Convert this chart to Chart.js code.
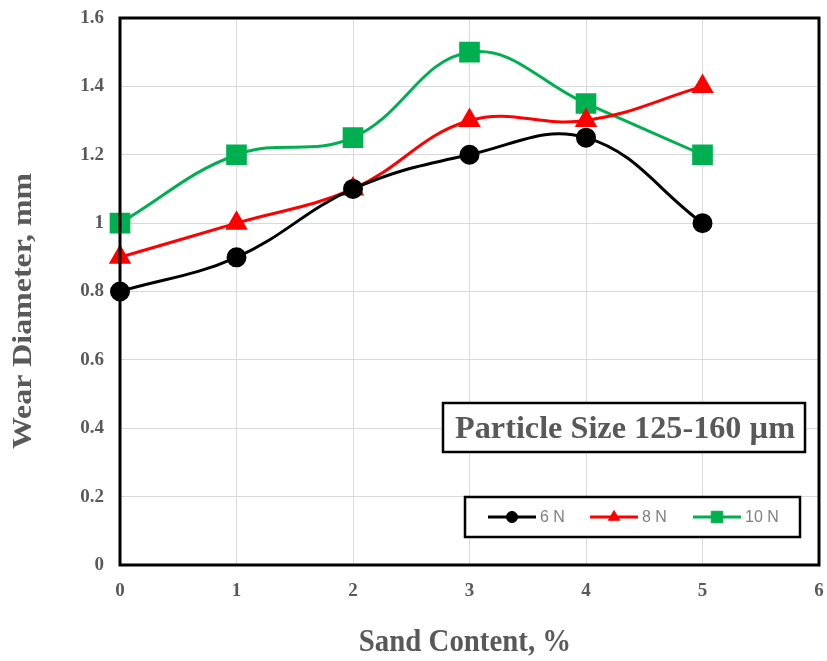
<!DOCTYPE html>
<html><head><meta charset="utf-8">
<script src="https://cdn.jsdelivr.net/npm/chart.js@4"></script>
<style>html,body{margin:0;padding:0;background:#fff;}#wrap{width:827px;height:661px;}</style>
</head><body><div id="wrap"><canvas id="c" width="827" height="661"></canvas></div>
<script>
const sandContent = [0, 1, 2, 3, 4, 5];
const load6N  = [0.8, 0.9, 1.1, 1.2, 1.25, 1.0];
const load8N  = [0.9, 1.0, 1.1, 1.3, 1.3, 1.4];
const load10N = [1.0, 1.2, 1.25, 1.5, 1.35, 1.2];
const seriesLabels = ['6 N', '8 N', '10 N'];
const xTitle = 'Sand Content, %';
const yTitle = 'Wear Diameter, mm';
const boxText = 'Particle Size 125-160 \u00b5m';

const toPts = arr => arr.map((v, i) => ({x: sandContent[i], y: v}));
const gray = '#595959';
const serif = "'Liberation Serif', 'DejaVu Serif', serif";

const overlay = {
  id: 'overlay',
  afterDraw(chart) {
    const ctx = chart.ctx, a = chart.chartArea;
    ctx.save();
    // plot border
    ctx.strokeStyle = '#000'; ctx.lineWidth = 3;
    ctx.strokeRect(a.left, a.top, a.right - a.left, a.bottom - a.top);
    // axis titles
    ctx.fillStyle = gray; ctx.font = "bold 28px " + serif;
    ctx.textAlign = 'center'; ctx.textBaseline = 'middle';
    ctx.save();
    ctx.translate(465, 643);
    ctx.scale(1.03, 1.15);
    ctx.fillText(xTitle, 0, 0);
    ctx.restore();
    ctx.save();
    ctx.translate(24, 311);
    ctx.rotate(-Math.PI / 2);
    ctx.scale(1.14, 1.0);
    ctx.fillText(yTitle, 0, 0);
    ctx.restore();
    // annotation box
    ctx.fillStyle = '#fff';
    ctx.fillRect(443, 403, 362, 49);
    ctx.lineWidth = 2.5; ctx.strokeStyle = '#000';
    ctx.strokeRect(443, 403, 362, 49);
    ctx.fillStyle = gray; ctx.font = "bold 31px " + serif;
    ctx.save();
    ctx.translate(625, 430);
    ctx.scale(1.04, 1.0);
    ctx.fillText(boxText, 0, 0);
    ctx.restore();
    // legend box
    ctx.fillStyle = '#fff';
    ctx.fillRect(465, 497, 335, 40);
    ctx.strokeRect(465, 497, 335, 40);
    const starts = [488, 590, 693];
    ctx.font = "16px 'Liberation Sans', Arial, sans-serif";
    ctx.textAlign = 'left';
    chart.data.datasets.forEach((ds, i) => {
      const x0 = starts[i], y = 517;
      ctx.strokeStyle = ds.borderColor; ctx.fillStyle = ds.borderColor; ctx.lineWidth = 3;
      ctx.beginPath(); ctx.moveTo(x0, y); ctx.lineTo(x0 + 48, y); ctx.stroke();
      ctx.lineWidth = 1;
      Chart.helpers.drawPoint(ctx, {pointStyle: ds.pointStyle, radius: ds.pointRadius * 0.65, borderWidth: 1}, x0 + 24, y);
      ctx.fillStyle = '#7f7f7f';
      ctx.fillText(ds.label, x0 + 52, y + 1);
    });
    ctx.restore();
  }
};

function ds(label, data, color, style, r) {
  return {label, data: toPts(data), borderColor: color, backgroundColor: color,
    pointBackgroundColor: color, pointBorderColor: color, pointStyle: style,
    pointRadius: r, pointHoverRadius: r, borderWidth: 3, tension: 0.4, fill: false, clip: false};
}

function zeroPad(s) { s.paddingLeft = 0; s.paddingRight = 0; s.paddingTop = 0; s.paddingBottom = 0; }

new Chart(document.getElementById('c'), {
  type: 'line',
  data: {datasets: [
    ds(seriesLabels[0], load6N, '#000000', 'circle', 8.5),
    ds(seriesLabels[1], load8N, '#ff0000', 'triangle', 10),
    ds(seriesLabels[2], load10N, '#00b050', 'rect', 12.5)
  ]},
  options: {
    responsive: false, animation: false,
    layout: {autoPadding: false, padding: {top: 18, right: 8, left: 0, bottom: 0}},
    plugins: {legend: {display: false}, tooltip: {enabled: false}},
    scales: {
      x: {type: 'linear', min: 0, max: 6,
        ticks: {stepSize: 1, color: gray, padding: 15, font: {family: serif, size: 19, weight: 'bold'}},
        grid: {color: '#d9d9d9', drawTicks: false},
        border: {display: false},
        title: {display: false},
        afterFit(s) { s.height = 96; zeroPad(s); }
      },
      y: {min: 0, max: 1.6,
        ticks: {stepSize: 0.2, color: gray, padding: 16, font: {family: serif, size: 19, weight: 'bold'},
          callback: v => Math.round(v * 10) / 10 + ''},
        grid: {color: '#d9d9d9', drawTicks: false},
        border: {display: false},
        title: {display: false},
        afterFit(s) { s.width = 120; zeroPad(s); }
      }
    }
  },
  plugins: [overlay]
});
</script></body></html>
